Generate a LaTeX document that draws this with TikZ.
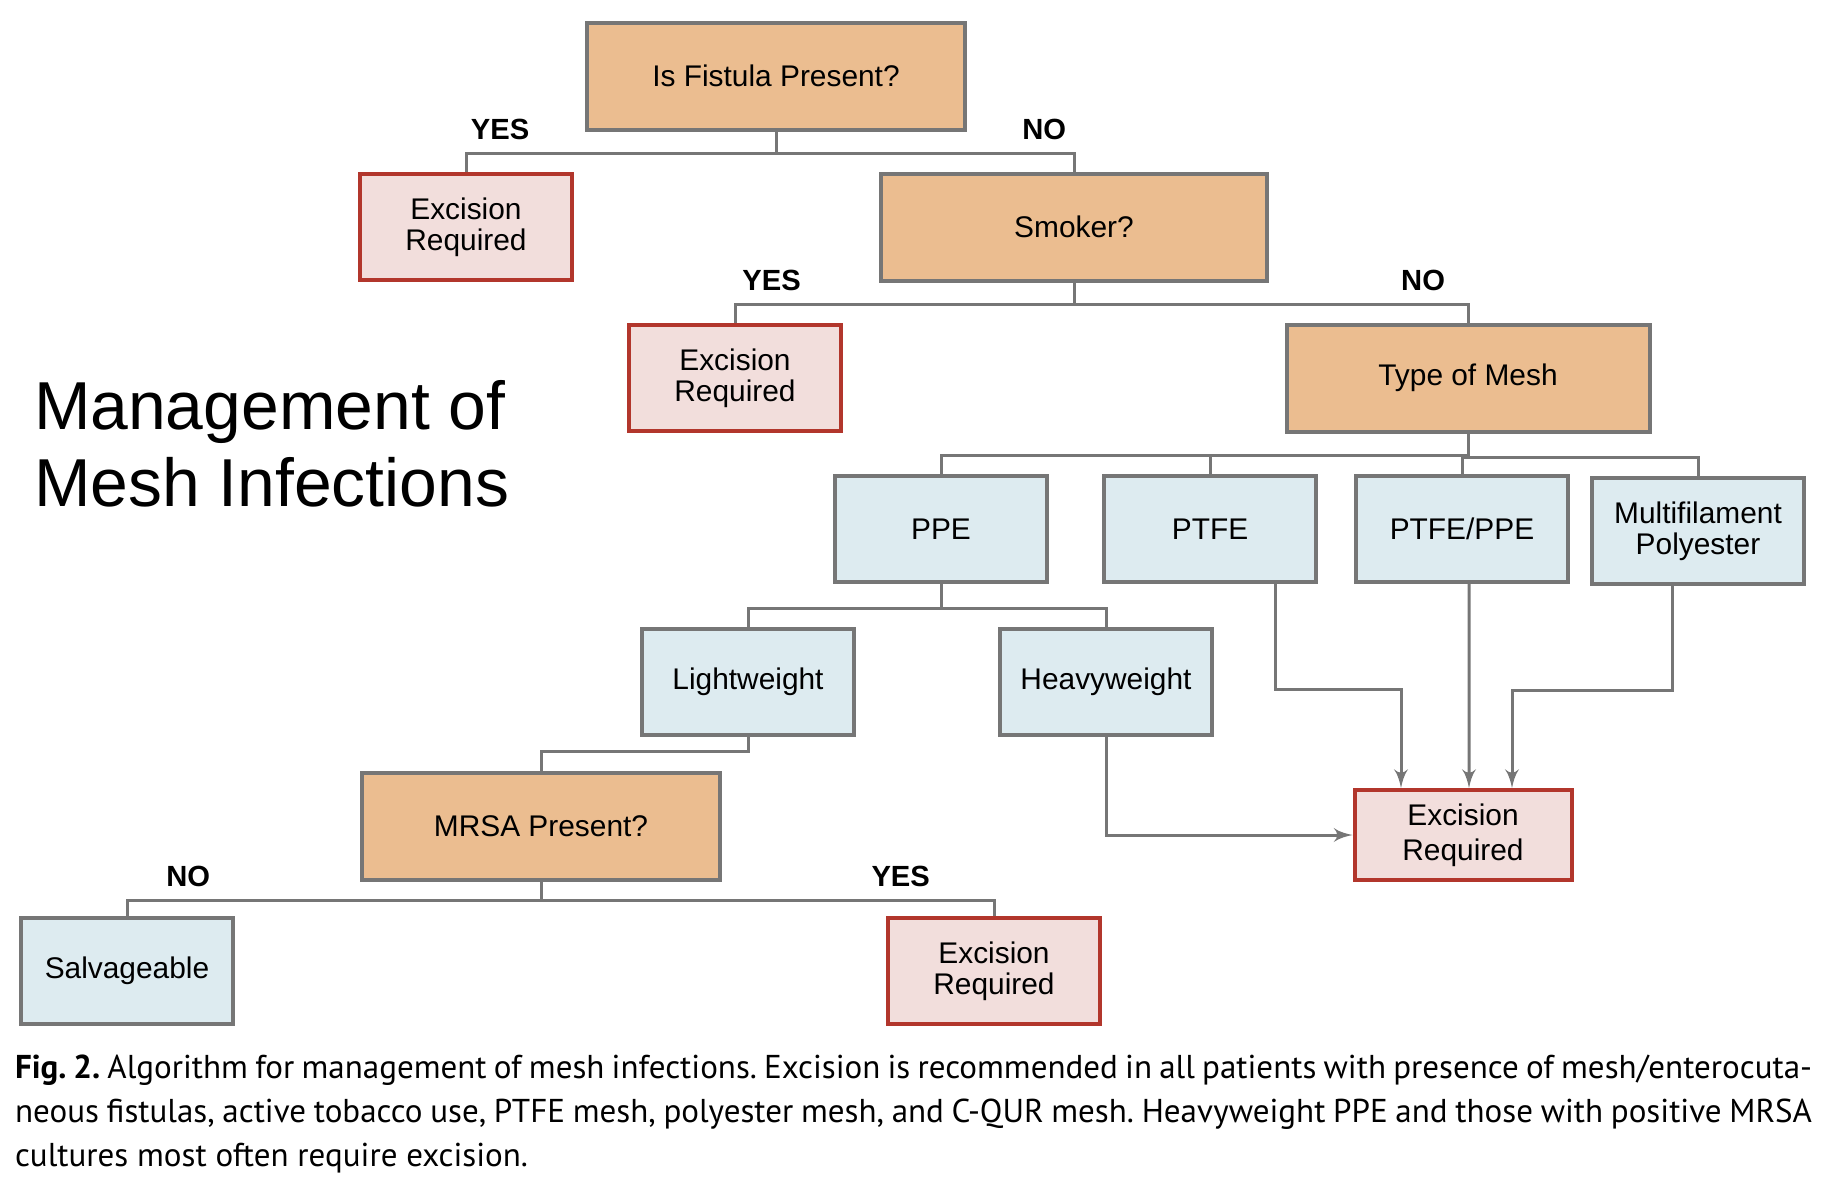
\documentclass[tikz,border=0pt]{standalone}
\usepackage{fontspec}
\setmainfont{Liberation Sans}
\newfontfamily\capfont{PT Sans}
\usepackage{tikz}
\usetikzlibrary{positioning, arrows}

\definecolor{askfill}{RGB}{235,189,144}
\definecolor{meshfill}{RGB}{221,235,240}
\definecolor{cutfill}{RGB}{242,222,220}
\definecolor{cutline}{RGB}{178,54,44}
\definecolor{edgegray}{RGB}{118,118,118}

\begin{document}
\begin{tikzpicture}[>=latex', node distance=15.1mm, semithick,
    box/.style={draw=edgegray, line width=0.4mm, minimum width=21.2mm, minimum height=10.6mm,
        align=center, inner sep=1pt, font=\fontsize{8.5}{8.8}\selectfont},
    query/.style={box, fill=askfill, minimum height=10.7mm},
    meshbox/.style={box, fill=meshfill},
    cutbox/.style={box, fill=cutfill, draw=cutline},
    answer/.style={font=\bfseries\fontsize{8.3}{10}\selectfont, inner sep=1pt},
    link/.style={draw=edgegray, line width=0.3mm},
    heading/.style={anchor=north west, inner sep=0pt, align=left, font=\fontsize{19.3}{22.1}\selectfont},
    caption/.style={anchor=north west, inner sep=0pt, text width=179.7mm, align=justify,
        font=\capfont\fontsize{9.4}{12.5}\selectfont\frenchspacing}]
    \useasboundingbox (0,0) rectangle (183.8mm,-118mm);

    \node[query, minimum width=37.8mm] (fistula) at (77.6mm,-7.6mm) {Is Fistula Present?};
    \node[cutbox] (exc1) [below of=fistula, xshift=-31mm] {Excision\\Required};
    \node[query, minimum width=38.6mm] (smoker) [below of=fistula, xshift=29.8mm] {Smoker?};
    \node[cutbox] (exc2) [below of=smoker, xshift=-33.9mm] {Excision\\Required};
    \node[query, minimum width=36.3mm] (mesh) [below of=smoker, xshift=39.4mm] {Type of Mesh};
    \node[meshbox] (ppe) [below of=mesh, xshift=-52.7mm] {PPE};
    \node[meshbox] (ptfe) [below of=mesh, xshift=-25.8mm] {PTFE};
    \node[meshbox] (ptfeppe) [below of=mesh, xshift=-0.6mm] {PTFE/PPE};
    \node[meshbox] (multi) [below of=mesh, xshift=23mm, yshift=-0.2mm] {Multifilament\\Polyester};
    \node[meshbox] (light) [below of=ppe, xshift=-19.3mm, yshift=-0.2mm] {Lightweight};
    \node[meshbox] (heavy) [below of=ppe, xshift=16.5mm, yshift=-0.2mm] {Heavyweight};
    \node[query, minimum width=35.8mm] (mrsa) [node distance=14.4mm, below of=light, xshift=-20.7mm] {MRSA Present?};
    \node[meshbox] (salv) [node distance=14.5mm, below of=mrsa, xshift=-41.4mm] {Salvageable};
    \node[cutbox] (exc3) [node distance=14.5mm, below of=mrsa, xshift=45.3mm] {Excision\\Required};
    \node[cutbox, minimum width=21.7mm, minimum height=9mm, font=\fontsize{8.5}{10}\selectfont] (exc4)
        [node distance=30.6mm, below of=ptfeppe, xshift=0.1mm] {Excision\\Required};

    \node[heading] (title) at (3.3mm,-37.9mm) {Management of\\Mesh Infections};

    % tree branches
    \draw[link] (fistula.south) -- ++(0,-2.2mm) -| node[answer, pos=0.445, above=2.4pt] {YES} (exc1.north);
    \draw[link] (fistula.south) -- ++(0,-2.2mm) -| node[answer, pos=0.45, above=2.4pt] {NO} (smoker.north);
    \draw[link] (smoker.south) -- ++(0,-2.2mm) -| node[answer, pos=0.446, above=2.4pt] {YES} (exc2.north);
    \draw[link] (smoker.south) -- ++(0,-2.2mm) -| node[answer, pos=0.443, above=2.4pt] {NO} (mesh.north);
    \draw[link] (mesh.south) -- ++(0,-2.2mm) -| (ppe.north);
    \draw[link] (mesh.south) -- ++(0,-2.2mm) -| (ptfe.north);
    \draw[link] (mesh.south) -- ++(0,-2.4mm) -| (ptfeppe.north);
    \draw[link] (mesh.south) -- ++(0,-2.4mm) -| (multi.north);
    \draw[link] (ppe.south) -- ++(0,-2.4mm) -| (light.north);
    \draw[link] (ppe.south) -- ++(0,-2.4mm) -| (heavy.north);
    \draw[link] (light.south) -- ++(0,-1.4mm) -| (mrsa.north);
    \draw[link] (mrsa.south) -- ++(0,-1.9mm) -| node[answer, pos=0.426, above=2.4pt] {NO} (salv.north);
    \draw[link] (mrsa.south) -- ++(0,-1.9mm) -| node[answer, pos=0.397, above=2.4pt] {YES} (exc3.north);

    % arrows into the shared excision box
    \draw[link, ->] ([xshift=6.5mm]ptfe.south) -- ++(0,-10.5mm) -| ([xshift=-6.2mm]exc4.north);
    \draw[link, ->] ([xshift=0.7mm]ptfeppe.south) -- ([xshift=0.6mm]exc4.north);
    \draw[link, ->] ([xshift=-2.6mm]multi.south) -- ++(0,-10.4mm) -| ([xshift=4.9mm]exc4.north);
    \draw[link, ->] (heavy.south) |- (exc4.west);

    \node[caption] (cap) at (1.4mm,-105.4mm) {\textbf{Fig. 2.} Algorithm for management of mesh infections. Excision is recommended in all patients with presence of mesh/enterocuta-\linebreak neous fistulas, active tobacco use, PTFE mesh, polyester mesh, and C-QUR mesh. Heavyweight PPE and those with positive MRSA\linebreak cultures most often require excision.};
\end{tikzpicture}
\end{document}
